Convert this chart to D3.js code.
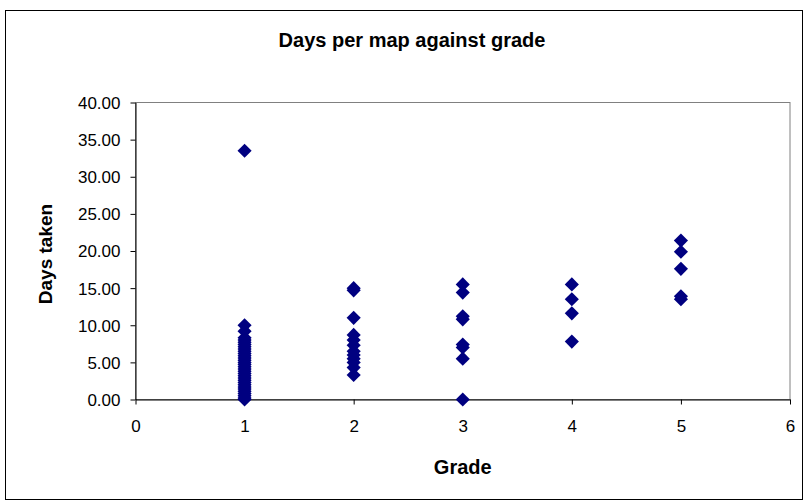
<!DOCTYPE html>
<html>
<head>
<meta charset="utf-8">
<script src="https://cdn.jsdelivr.net/npm/d3@7"></script>
<style>
  body { margin: 0; background: #fff; }
  svg text { font-family: "Liberation Sans", Arial, sans-serif; }
</style>
</head>
<body>
<div id="chart"></div>
<script>
// Data (grade -> days per map)
var grade1Days = [33.5, 10.0, 9.2, 8.3, 8.0, 7.7, 7.4, 7.1, 6.8, 6.5, 6.2, 5.9, 5.6, 5.3, 5.0,
    4.7, 4.4, 4.1, 3.8, 3.5, 3.2, 2.9, 2.6, 2.3, 2.0, 1.7, 1.4, 1.1, 0.8, 0.5, 0.2, 0.0];
var grade2Days = [15.0, 14.7, 11.0, 8.7, 8.0, 7.3, 6.5, 6.0, 5.5, 5.0, 4.3, 3.3];
var grade3Days = [15.5, 14.4, 11.2, 10.8, 7.4, 7.0, 5.5, 0.0];
var grade4Days = [15.5, 13.5, 11.6, 7.8];
var grade5Days = [21.4, 19.9, 17.6, 13.9, 13.5];

var yTicks = [0, 5, 10, 15, 20, 25, 30, 35, 40];
var xTicks = [0, 1, 2, 3, 4, 5, 6];

// build point list
var points = [];
[grade1Days, grade2Days, grade3Days, grade4Days, grade5Days].forEach(function (arr, i) {
    arr.forEach(function (v) { points.push({ grade: i + 1, days: v }); });
});

var W = 807, H = 503;
var plot = { left: 135.5, right: 790, top: 102.5, bottom: 399.5 };

var svg = d3.select("#chart").append("svg")
    .attr("width", W)
    .attr("height", H);

// outer chart border
svg.append("rect")
    .attr("x", 5.5).attr("y", 10.5)
    .attr("width", 797).attr("height", 489)
    .attr("fill", "#fff")
    .attr("stroke", "#000")
    .attr("stroke-width", 1);

var x = d3.scaleLinear().domain([0, 6]).range([plot.left, plot.right]);
var y = d3.scaleLinear().domain([0, 40]).range([plot.bottom, plot.top]);

// plot area border (grey)
svg.append("rect")
    .attr("x", plot.left).attr("y", plot.top)
    .attr("width", plot.right - plot.left)
    .attr("height", plot.bottom - plot.top)
    .attr("fill", "none")
    .attr("stroke", "#808080");

// axes
var yAxis = d3.axisLeft(y).tickValues(yTicks).tickSize(5).tickSizeOuter(0)
    .tickFormat(d3.format(".2f"));
var xAxis = d3.axisBottom(x).tickValues(xTicks).tickSize(5).tickSizeOuter(0)
    .tickFormat(d3.format("d"));

var gy = svg.append("g")
    .attr("transform", "translate(" + plot.left + ",0)")
    .call(yAxis);
var gx = svg.append("g")
    .attr("transform", "translate(0," + plot.bottom + ")")
    .call(xAxis);

[gx, gy].forEach(function (g) {
    g.select(".domain").attr("stroke", "#000");
    g.selectAll(".tick line").attr("stroke", "#000");
    g.selectAll(".tick text")
        .attr("fill", "#000")
        .style("font-size", "17px");
});
gy.selectAll(".tick text").attr("x", -15).attr("dy", "0.35em");
gx.selectAll(".tick text").attr("y", 20);

// markers
var diamond = d3.symbol().type(d3.symbolSquare).size(100);
svg.append("g")
    .selectAll("path")
    .data(points)
    .enter()
    .append("path")
    .attr("d", diamond)
    .attr("transform", function (d) {
        return "translate(" + x(d.grade) + "," + y(d.days) + ") rotate(45)";
    })
    .attr("fill", "#000080");

// title and axis labels
svg.append("text")
    .attr("x", 412).attr("y", 47)
    .attr("text-anchor", "middle")
    .style("font-size", "20px")
    .style("font-weight", "bold")
    .text("Days per map against grade");

svg.append("text")
    .attr("x", (plot.left + plot.right) / 2).attr("y", 474)
    .attr("text-anchor", "middle")
    .style("font-size", "20px")
    .style("font-weight", "bold")
    .text("Grade");

svg.append("text")
    .attr("transform", "translate(52,254) rotate(-90)")
    .attr("text-anchor", "middle")
    .style("font-size", "19px")
    .style("font-weight", "bold")
    .text("Days taken");
</script>
</body>
</html>
